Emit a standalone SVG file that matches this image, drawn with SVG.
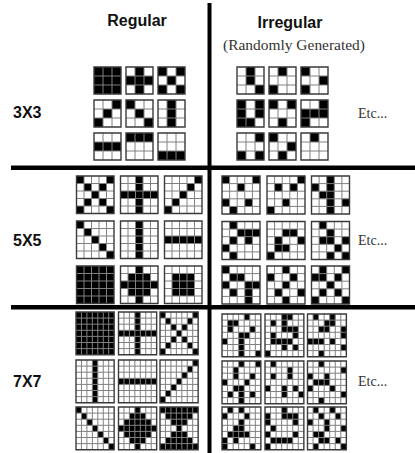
<svg xmlns="http://www.w3.org/2000/svg" xmlns:xlink="http://www.w3.org/1999/xlink" width="415" height="453" viewBox="0 0 415 453">
<style>
.bg{fill:#fff}
.k{fill:#000}
.in{fill:none;stroke:#808080;stroke-width:1;vector-effect:non-scaling-stroke}
.o{fill:none;stroke:#3a3a3a;stroke-width:1.4;vector-effect:non-scaling-stroke}
.hd{font-family:"Liberation Sans",Arial,sans-serif;font-weight:bold;font-size:16px;fill:#111}
.lb{font-family:"Liberation Sans",Arial,sans-serif;font-weight:bold;font-size:16px;fill:#111}
.sf{font-family:"Liberation Serif","Times New Roman",serif;fill:#333333}
.bar{fill:#000}
</style>
<defs>
<g id="L3"><rect class="bg" width="3" height="3"/></g>
<g id="G3"><path class="in" d="M1 0V3M2 0V3M0 1H3M0 2H3"/><rect class="o" width="3" height="3"/></g>
<g id="L5"><rect class="bg" width="5" height="5"/></g>
<g id="G5"><path class="in" d="M1 0V5M2 0V5M3 0V5M4 0V5M0 1H5M0 2H5M0 3H5M0 4H5"/><rect class="o" width="5" height="5"/></g>
<g id="L7"><rect class="bg" width="7" height="7"/></g>
<g id="G7"><path class="in" d="M1 0V7M2 0V7M3 0V7M4 0V7M5 0V7M6 0V7M0 1H7M0 2H7M0 3H7M0 4H7M0 5H7M0 6H7"/><rect class="o" width="7" height="7"/></g>
</defs>

<g id="dividers">
<rect class="bar" x="207.5" y="3" width="4" height="450"/>
<rect class="bar" x="11" y="165.5" width="404" height="4.5"/>
<rect class="bar" x="11" y="305" width="404" height="4.5"/>
</g>

<g id="labels">
<text class="hd" x="137" y="26" text-anchor="middle">Regular</text>
<text class="hd" x="290" y="28" text-anchor="middle">Irregular</text>
<text class="sf" x="294" y="50" text-anchor="middle" font-size="15" textLength="142" lengthAdjust="spacingAndGlyphs">(Randomly Generated)</text>
<text class="lb" x="13" y="118">3X3</text>
<text class="lb" x="13" y="246">5X5</text>
<text class="lb" x="13" y="387">7X7</text>
<text class="sf" x="358" y="118" font-size="14">Etc...</text>
<text class="sf" x="358" y="245" font-size="14">Etc...</text>
<text class="sf" x="358" y="386" font-size="14">Etc...</text>
</g>

<!-- 3x3 regular -->
<g id="r3-1" transform="translate(94,67) scale(9)"><use xlink:href="#L3"/><path class="k" d="M0 0h3v3h-3z"/><use xlink:href="#G3"/></g>
<g id="r3-2" transform="translate(126,67) scale(9)"><use xlink:href="#L3"/><path class="k" d="M1 0h1v3h-1zM0 1h3v1h-3z"/><use xlink:href="#G3"/></g>
<g id="r3-3" transform="translate(158,67) scale(9)"><use xlink:href="#L3"/><path class="k" d="M0 0h1v1h-1zM2 0h1v1h-1zM1 1h1v1h-1zM0 2h1v1h-1zM2 2h1v1h-1z"/><use xlink:href="#G3"/></g>
<g id="r3-4" transform="translate(94,100) scale(9)"><use xlink:href="#L3"/><path class="k" d="M2 0h1v1h-1zM1 1h1v1h-1zM0 2h1v1h-1z"/><use xlink:href="#G3"/></g>
<g id="r3-5" transform="translate(126,100) scale(9)"><use xlink:href="#L3"/><path class="k" d="M0 0h1v1h-1zM1 1h1v1h-1zM2 2h1v1h-1z"/><use xlink:href="#G3"/></g>
<g id="r3-6" transform="translate(158,100) scale(9)"><use xlink:href="#L3"/><path class="k" d="M1 0h1v3h-1z"/><use xlink:href="#G3"/></g>
<g id="r3-7" transform="translate(94,133) scale(9)"><use xlink:href="#L3"/><path class="k" d="M0 1h3v1h-3z"/><use xlink:href="#G3"/></g>
<g id="r3-8" transform="translate(126,133) scale(9)"><use xlink:href="#L3"/><path class="k" d="M0 0h3v1h-3z"/><use xlink:href="#G3"/></g>
<g id="r3-9" transform="translate(158,133) scale(9)"><use xlink:href="#L3"/><path class="k" d="M0 2h3v1h-3z"/><use xlink:href="#G3"/></g>

<!-- 3x3 irregular -->
<g id="i3-1" transform="translate(237,67) scale(9)"><use xlink:href="#L3"/><path class="k" d="M1 0h1v2h-1zM2 2h1v1h-1z"/><use xlink:href="#G3"/></g>
<g id="i3-2" transform="translate(269,67) scale(9)"><use xlink:href="#L3"/><path class="k" d="M1 0h1v1h-1zM0 2h1v1h-1z"/><use xlink:href="#G3"/></g>
<g id="i3-3" transform="translate(301,67) scale(9)"><use xlink:href="#L3"/><path class="k" d="M0 0h1v1h-1zM2 1h1v1h-1zM0 2h1v1h-1z"/><use xlink:href="#G3"/></g>
<g id="i3-4" transform="translate(237,100) scale(9)"><use xlink:href="#L3"/><path class="k" d="M0 0h1v3h-1zM2 0h1v2h-1zM1 2h1v1h-1z"/><use xlink:href="#G3"/></g>
<g id="i3-5" transform="translate(269,100) scale(9)"><use xlink:href="#L3"/><path class="k" d="M0 0h1v1h-1zM2 0h1v1h-1zM1 2h1v1h-1z"/><use xlink:href="#G3"/></g>
<g id="i3-6" transform="translate(301,100) scale(9)"><use xlink:href="#L3"/><path class="k" d="M2 0h1v1h-1zM0 1h3v1h-3zM0 2h1v1h-1z"/><use xlink:href="#G3"/></g>
<g id="i3-7" transform="translate(237,133) scale(9)"><use xlink:href="#L3"/><path class="k" d="M2 0h1v1h-1zM0 2h1v1h-1zM2 2h1v1h-1z"/><use xlink:href="#G3"/></g>
<g id="i3-8" transform="translate(269,133) scale(9)"><use xlink:href="#L3"/><path class="k" d="M0 0h1v1h-1zM2 1h1v1h-1zM1 2h1v1h-1z"/><use xlink:href="#G3"/></g>
<g id="i3-9" transform="translate(301,133) scale(9)"><use xlink:href="#L3"/><path class="k" d="M1 0h1v1h-1z"/><use xlink:href="#G3"/></g>

<!-- 5x5 regular -->
<g id="r5-1" transform="translate(76.5,176) scale(7.5)"><use xlink:href="#L5"/><path class="k" d="M0 0h1v1h-1zM4 0h1v1h-1zM1 1h1v1h-1zM3 1h1v1h-1zM2 2h1v1h-1zM1 3h1v1h-1zM3 3h1v1h-1zM0 4h1v1h-1zM4 4h1v1h-1z"/><use xlink:href="#G5"/></g>
<g id="r5-2" transform="translate(120.5,176) scale(7.5)"><use xlink:href="#L5"/><path class="k" d="M2 0h1v5h-1zM0 2h5v1h-5z"/><use xlink:href="#G5"/></g>
<g id="r5-3" transform="translate(164.5,176) scale(7.5)"><use xlink:href="#L5"/><path class="k" d="M4 0h1v1h-1zM3 1h1v1h-1zM2 2h1v1h-1zM1 3h1v1h-1zM0 4h1v1h-1z"/><use xlink:href="#G5"/></g>
<g id="r5-4" transform="translate(76.5,221) scale(7.5)"><use xlink:href="#L5"/><path class="k" d="M0 0h1v1h-1zM1 1h1v1h-1zM2 2h1v1h-1zM3 3h1v1h-1zM4 4h1v1h-1z"/><use xlink:href="#G5"/></g>
<g id="r5-5" transform="translate(120.5,221) scale(7.5)"><use xlink:href="#L5"/><path class="k" d="M2 0h1v5h-1z"/><use xlink:href="#G5"/></g>
<g id="r5-6" transform="translate(164.5,221) scale(7.5)"><use xlink:href="#L5"/><path class="k" d="M0 2h5v1h-5z"/><use xlink:href="#G5"/></g>
<g id="r5-7" transform="translate(76.5,266) scale(7.5)"><use xlink:href="#L5"/><path class="k" d="M0 0h5v5h-5z"/><use xlink:href="#G5"/></g>
<g id="r5-8" transform="translate(120.5,266) scale(7.5)"><use xlink:href="#L5"/><path class="k" d="M2 0h1v1h-1zM1 1h3v1h-3zM0 2h5v1h-5zM1 3h3v1h-3zM2 4h1v1h-1z"/><use xlink:href="#G5"/></g>
<g id="r5-9" transform="translate(164.5,266) scale(7.5)"><use xlink:href="#L5"/><path class="k" d="M1 1h3v3h-3z"/><use xlink:href="#G5"/></g>

<!-- 5x5 irregular -->
<g id="i5-1" transform="translate(222,176) scale(7.6)"><use xlink:href="#L5"/><path class="k" d="M0 0h1v1h-1zM4 0h1v1h-1zM2 1h1v1h-1zM0 3h1v1h-1zM3 3h1v1h-1zM1 4h1v1h-1z"/><use xlink:href="#G5"/></g>
<g id="i5-2" transform="translate(267,176) scale(7.6)"><use xlink:href="#L5"/><path class="k" d="M4 0h1v1h-1zM1 1h1v1h-1zM3 1h1v1h-1zM2 3h1v1h-1zM0 4h1v1h-1z"/><use xlink:href="#G5"/></g>
<g id="i5-3" transform="translate(311.5,176) scale(7.6)"><use xlink:href="#L5"/><path class="k" d="M2 0h1v1h-1zM0 1h1v1h-1zM2 1h1v1h-1zM1 2h2v1h-2zM2 3h1v1h-1zM4 3h1v1h-1zM2 4h1v1h-1z"/><use xlink:href="#G5"/></g>
<g id="i5-4" transform="translate(222,221.5) scale(7.6)"><use xlink:href="#L5"/><path class="k" d="M1 0h1v1h-1zM2 1h3v1h-3zM1 2h1v1h-1zM3 2h1v1h-1zM0 3h1v1h-1zM1 4h1v1h-1z"/><use xlink:href="#G5"/></g>
<g id="i5-5" transform="translate(267,221.5) scale(7.6)"><use xlink:href="#L5"/><path class="k" d="M2 1h2v1h-2zM1 2h1v1h-1zM4 2h1v1h-1zM1 3h2v1h-2zM0 4h1v1h-1z"/><use xlink:href="#G5"/></g>
<g id="i5-6" transform="translate(311.5,221.5) scale(7.6)"><use xlink:href="#L5"/><path class="k" d="M1 0h1v1h-1zM2 1h1v1h-1zM1 2h2v1h-2zM4 2h1v1h-1zM3 3h1v1h-1zM2 4h1v1h-1zM4 4h1v1h-1z"/><use xlink:href="#G5"/></g>
<g id="i5-7" transform="translate(222,266) scale(7.6)"><use xlink:href="#L5"/><path class="k" d="M0 0h1v1h-1zM1 1h2v1h-2zM0 2h1v1h-1zM3 2h2v1h-2zM1 3h1v1h-1zM3 3h1v1h-1zM3 4h1v1h-1z"/><use xlink:href="#G5"/></g>
<g id="i5-8" transform="translate(267,266) scale(7.6)"><use xlink:href="#L5"/><path class="k" d="M2 0h1v1h-1zM0 1h1v1h-1zM3 1h1v1h-1zM2 2h1v1h-1zM1 3h1v1h-1zM4 3h1v1h-1zM2 4h1v1h-1z"/><use xlink:href="#G5"/></g>
<g id="i5-9" transform="translate(311.5,266) scale(7.6)"><use xlink:href="#L5"/><path class="k" d="M1 0h1v1h-1zM4 0h1v1h-1zM0 1h2v1h-2zM3 1h1v1h-1zM2 2h1v1h-1zM1 3h1v1h-1zM3 3h1v1h-1zM0 4h1v1h-1zM4 4h1v1h-1z"/><use xlink:href="#G5"/></g>

<!-- 7x7 regular -->
<g id="r7-1" transform="translate(76,312) scale(5.45,6.1)"><use xlink:href="#L7"/><path class="k" d="M0 0h7v7h-7z"/><use xlink:href="#G7"/></g>
<g id="r7-2" transform="translate(118.5,312) scale(5.45,6.1)"><use xlink:href="#L7"/><path class="k" d="M3 0h1v7h-1zM0 3h7v1h-7z"/><use xlink:href="#G7"/></g>
<g id="r7-3" transform="translate(160,312) scale(5.45,6.1)"><use xlink:href="#L7"/><path class="k" d="M0 0h1v1h-1zM6 0h1v1h-1zM1 1h1v1h-1zM5 1h1v1h-1zM2 2h1v1h-1zM4 2h1v1h-1zM3 3h1v1h-1zM2 4h1v1h-1zM4 4h1v1h-1zM1 5h1v1h-1zM5 5h1v1h-1zM0 6h1v1h-1zM6 6h1v1h-1z"/><use xlink:href="#G7"/></g>
<g id="r7-4" transform="translate(76,360) scale(5.45,6.1)"><use xlink:href="#L7"/><path class="k" d="M3 0h1v7h-1z"/><use xlink:href="#G7"/></g>
<g id="r7-5" transform="translate(118.5,360) scale(5.45,6.1)"><use xlink:href="#L7"/><path class="k" d="M0 3h7v1h-7z"/><use xlink:href="#G7"/></g>
<g id="r7-6" transform="translate(160,360) scale(5.45,6.1)"><use xlink:href="#L7"/><path class="k" d="M6 0h1v1h-1zM5 1h1v1h-1zM4 2h1v1h-1zM3 3h1v1h-1zM2 4h1v1h-1zM1 5h1v1h-1zM0 6h1v1h-1z"/><use xlink:href="#G7"/></g>
<g id="r7-7" transform="translate(76,407) scale(5.45,6.1)"><use xlink:href="#L7"/><path class="k" d="M0 0h1v1h-1zM1 1h1v1h-1zM2 2h1v1h-1zM3 3h1v1h-1zM4 4h1v1h-1zM5 5h1v1h-1zM6 6h1v1h-1z"/><use xlink:href="#G7"/></g>
<g id="r7-8" transform="translate(118.5,407) scale(5.45,6.1)"><use xlink:href="#L7"/><path class="k" d="M3 0h1v1h-1zM2 1h3v1h-3zM1 2h5v1h-5zM0 3h7v1h-7zM1 4h5v1h-5zM2 5h3v1h-3zM3 6h1v1h-1z"/><use xlink:href="#G7"/></g>
<g id="r7-9" transform="translate(160,407) scale(5.45,6.1)"><use xlink:href="#L7"/><path class="k" d="M0 0h7v1h-7zM1 1h5v1h-5zM2 2h3v1h-3zM3 3h1v1h-1zM2 4h3v1h-3zM1 5h5v1h-5zM0 6h7v1h-7z"/><use xlink:href="#G7"/></g>

<!-- 7x7 irregular -->
<g id="i7-1" transform="translate(222,314) scale(5.55,6.1)"><use xlink:href="#L7"/><path class="k" d="M4 0h1v1h-1zM1 1h2v1h-2zM1 2h1v1h-1zM5 2h1v1h-1zM3 3h2v1h-2zM0 4h1v1h-1zM3 4h1v1h-1zM3 5h1v1h-1zM3 6h1v1h-1zM6 6h1v1h-1z"/><use xlink:href="#G7"/></g>
<g id="i7-2" transform="translate(265,314) scale(5.55,6.1)"><use xlink:href="#L7"/><path class="k" d="M3 0h2v1h-2zM1 1h1v1h-1zM3 1h1v1h-1zM3 2h3v1h-3zM1 3h1v1h-1zM5 3h1v1h-1zM1 4h4v1h-4zM3 5h1v1h-1zM5 5h1v1h-1zM0 6h1v1h-1z"/><use xlink:href="#G7"/></g>
<g id="i7-3" transform="translate(307.5,314) scale(5.55,6.1)"><use xlink:href="#L7"/><path class="k" d="M1 0h1v1h-1zM4 0h1v1h-1zM3 1h2v1h-2zM2 2h2v1h-2zM6 2h1v1h-1zM6 3h1v1h-1zM0 4h3v1h-3zM4 4h1v1h-1zM6 5h1v1h-1zM2 6h1v1h-1z"/><use xlink:href="#G7"/></g>
<g id="i7-4" transform="translate(222,361) scale(5.55,6.1)"><use xlink:href="#L7"/><path class="k" d="M3 0h1v1h-1zM6 0h1v1h-1zM2 1h1v2h-1zM5 2h1v1h-1zM0 3h1v1h-1zM4 3h1v1h-1zM2 4h2v1h-2zM1 5h1v1h-1zM3 5h1v1h-1zM5 5h1v1h-1zM3 6h1v1h-1z"/><use xlink:href="#G7"/></g>
<g id="i7-5" transform="translate(265,361) scale(5.55,6.1)"><use xlink:href="#L7"/><path class="k" d="M1 0h1v1h-1zM4 1h1v1h-1zM1 2h1v1h-1zM4 2h1v1h-1zM0 4h1v1h-1zM3 4h1v1h-1zM5 4h1v1h-1zM3 5h1v1h-1zM6 5h1v1h-1z"/><use xlink:href="#G7"/></g>
<g id="i7-6" transform="translate(307.5,361) scale(5.55,6.1)"><use xlink:href="#L7"/><path class="k" d="M2 0h1v1h-1zM6 1h1v1h-1zM0 2h1v1h-1zM3 2h1v1h-1zM1 3h3v1h-3zM0 4h1v1h-1zM4 4h1v1h-1zM6 5h1v1h-1zM2 6h1v1h-1z"/><use xlink:href="#G7"/></g>
<g id="i7-7" transform="translate(222,407) scale(5.55,6.1)"><use xlink:href="#L7"/><path class="k" d="M1 0h1v1h-1zM3 0h1v1h-1zM0 1h1v1h-1zM4 1h1v1h-1zM3 2h1v1h-1zM2 3h2v1h-2zM1 4h4v1h-4zM0 5h1v1h-1zM2 5h1v1h-1zM0 6h1v1h-1zM5 6h1v1h-1z"/><use xlink:href="#G7"/></g>
<g id="i7-8" transform="translate(265,407) scale(5.55,6.1)"><use xlink:href="#L7"/><path class="k" d="M3 0h1v1h-1zM0 1h1v1h-1zM3 1h3v1h-3zM0 2h1v1h-1zM5 2h1v1h-1zM1 3h1v1h-1zM0 4h1v1h-1zM5 4h1v1h-1zM1 5h4v1h-4zM0 6h1v1h-1z"/><use xlink:href="#G7"/></g>
<g id="i7-9" transform="translate(307.5,407) scale(5.55,6.1)"><use xlink:href="#L7"/><path class="k" d="M1 0h1v1h-1zM4 0h1v1h-1zM2 1h1v1h-1zM5 1h1v1h-1zM0 2h1v1h-1zM3 2h1v2h-1zM6 3h1v1h-1zM1 4h2v1h-2zM2 5h2v1h-2zM5 5h1v1h-1zM1 6h1v1h-1zM6 6h1v1h-1z"/><use xlink:href="#G7"/></g>
</svg>
